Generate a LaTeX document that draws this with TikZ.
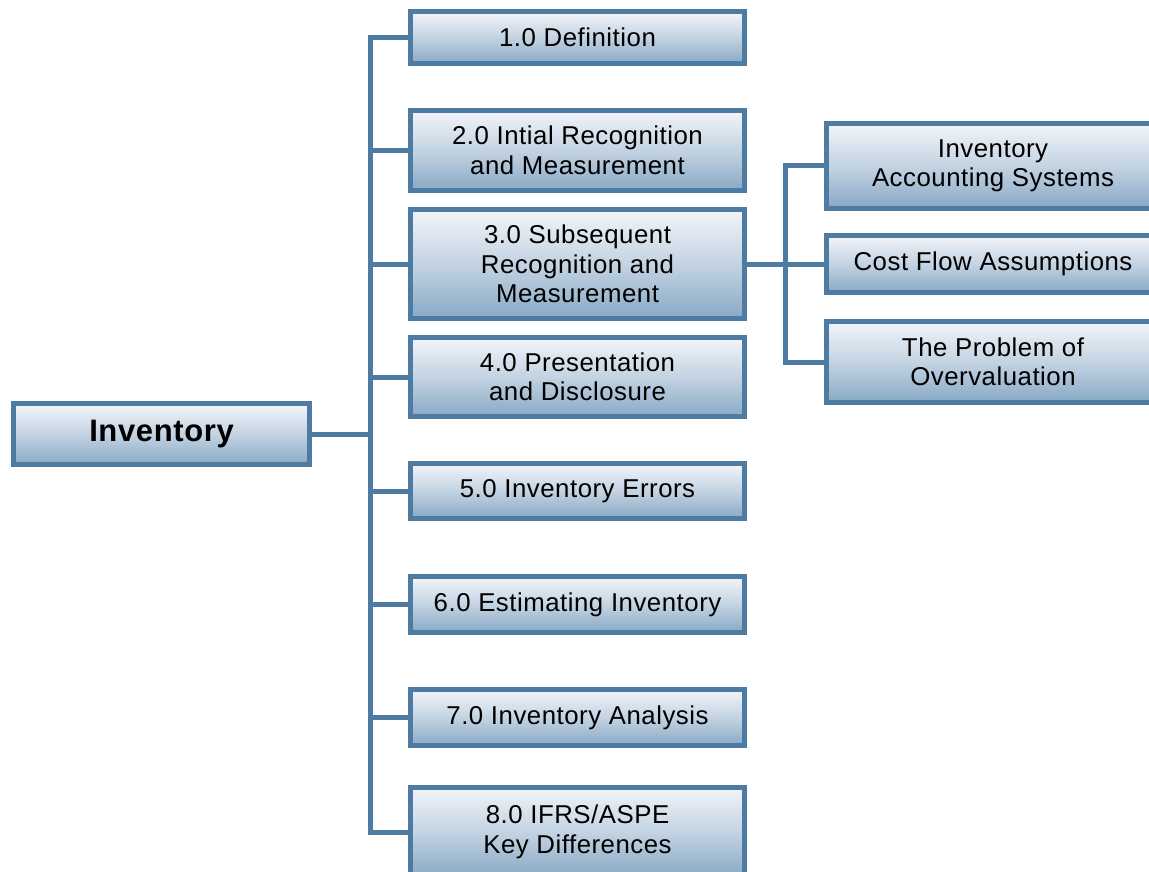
\documentclass[tikz,border=0pt]{standalone}
\usepackage{fontspec}
\setmainfont[LetterSpace=2]{Liberation Sans}
\usepackage{tikz}
\usepackage{xcolor}
\definecolor{edgeblue}{HTML}{4E7BA1}
\definecolor{topfill}{HTML}{F2F5F9}
\definecolor{midfill}{HTML}{C3D3E2}
\definecolor{lowfill}{HTML}{88A9C5}

\begin{document}
\begin{tikzpicture}[x=1pt, y=-1pt,
    box/.style={draw=edgeblue, line width=5pt, top color=topfill, bottom color=lowfill, middle color=midfill,
        inner sep=0pt, align=center, minimum width=334pt, font=\fontsize{25.8}{29.5}\selectfont},
    mainbox/.style={box, minimum width=296pt, minimum height=61pt, font=\fontsize{31}{36}\selectfont\bfseries},
    link/.style={draw=edgeblue, line width=5pt}]
    \clip (0,0) rectangle (1149,872);

    % Root
    \node[mainbox] (inv) at (161.5,434) {Inventory};

    % Chapter topics
    \node[box, minimum height=52pt] (b1) at (577.5,37.5) {1.0 Definition};
    \node[box, minimum height=80pt] (b2) at (577.5,150.5) {2.0 Intial Recognition\\and Measurement};
    \node[box, minimum height=109pt] (b3) at (577.5,264) {3.0 Subsequent\\Recognition and\\Measurement};
    \node[box, minimum height=79pt] (b4) at (577.5,377) {4.0 Presentation\\and Disclosure};
    \node[box, minimum height=55pt] (b5) at (577.5,491) {5.0 Inventory Errors};
    \node[box, minimum height=56pt] (b6) at (577.5,604.5) {6.0 Estimating Inventory};
    \node[box, minimum height=56pt] (b7) at (577.5,717.5) {7.0 Inventory Analysis};
    \node[box, minimum height=90pt] (b8) at (577.5,832) {8.0 IFRS/ASPE\\Key Differences};

    % Subtopics of 3.0
    \node[box, minimum width=333pt, minimum height=85pt] (s1) at (993,166) {Inventory\\Accounting Systems};
    \node[box, minimum width=333pt, minimum height=57pt] (s2) at (993,264) {Cost Flow Assumptions};
    \node[box, minimum width=333pt, minimum height=81pt] (s3) at (993,362) {The Problem of\\Overvaluation};

    % Left trunk
    \coordinate (jl) at (370,434);
    \draw[link] (b1.west) -- (b1.west -| jl) -- (b8.west -| jl) -- (b8.west);
    \foreach \b in {b2,b3,b4,b5,b6,b7}
        \draw[link] (\b.west) -- (\b.west -| jl);
    \draw[link] (inv.east) -- (jl);

    % Right trunk
    \coordinate (jr) at (785,264);
    \draw[link] (s1.west) -- (s1.west -| jr) -- (s3.west -| jr) -- (s3.west);
    \draw[link] (b3.east) -- (s2.west);
\end{tikzpicture}
\end{document}
